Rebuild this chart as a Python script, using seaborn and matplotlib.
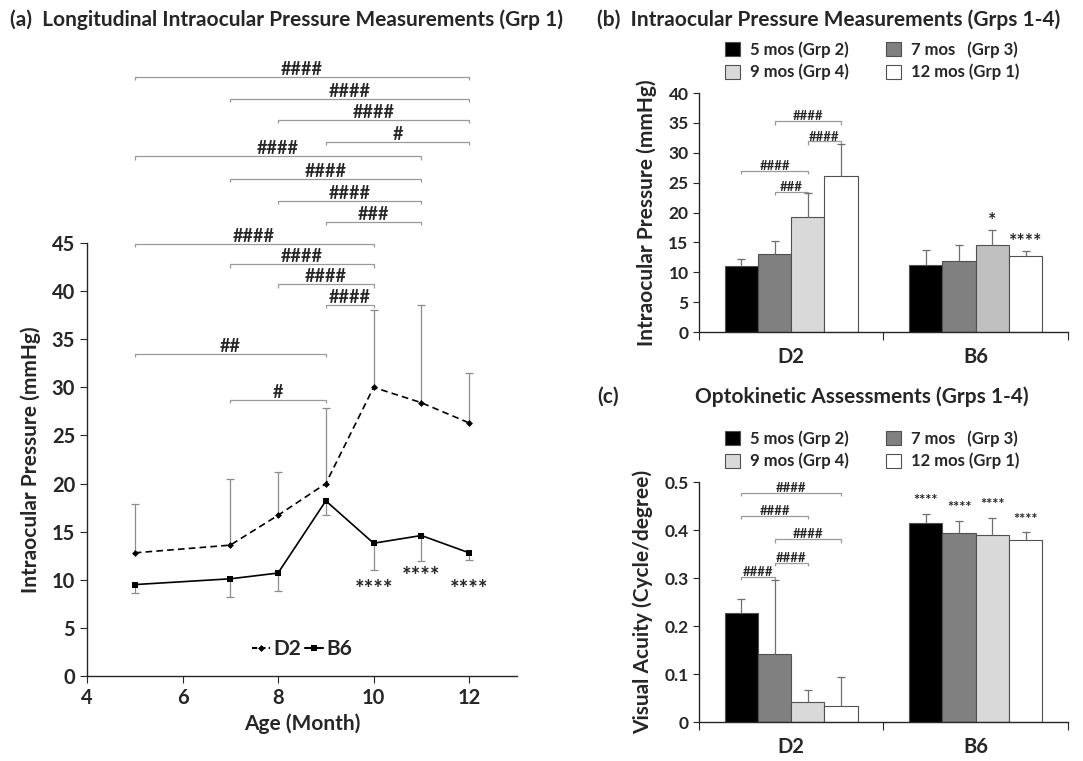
import numpy as np
import pandas as pd
import matplotlib
matplotlib.use("Agg")
import matplotlib.pyplot as plt
import seaborn as sns
from matplotlib.patches import Patch
from matplotlib.lines import Line2D

# ---------------- data ----------------
months = [5, 7, 8, 9, 10, 11, 12]
d2_iop = [12.8, 13.6, 16.7, 20.0, 30.0, 28.4, 26.3]
d2_sd = [5.1, 6.9, 4.5, 7.8, 8.0, 10.2, 5.2]
b6_iop = [9.5, 10.1, 10.7, 18.2, 13.8, 14.6, 12.8]
b6_sd = [0.9, 1.9, 1.85, 1.5, 2.8, 2.6, 0.75]

strains = ["D2", "B6"]
groups = ["5 mos (Grp 2)", "7 mos   (Grp 3)", "9 mos (Grp 4)", "12 mos (Grp 1)"]
group_colors = ["#000000", "#808080", "#d9d9d9", "#ffffff"]

iop_d2 = [11.0, 13.1, 19.2, 26.2]
iop_d2_sd = [1.2, 2.1, 4.0, 5.3]
iop_b6 = [11.3, 11.9, 14.6, 12.7]
iop_b6_sd = [2.5, 2.7, 2.5, 0.8]

va_d2 = [0.228, 0.142, 0.041, 0.034]
va_d2_sd = [0.028, 0.154, 0.025, 0.060]
va_b6 = [0.415, 0.394, 0.389, 0.380]
va_b6_sd = [0.019, 0.025, 0.037, 0.015]

# significance brackets: (from, to, height, label)
a_brackets = [(5, 12, 62.3, "####"), (7, 12, 60.0, "####"), (8, 12, 57.8, "####"),
              (9, 12, 55.5, "#"), (5, 11, 54.0, "####"), (7, 11, 51.7, "####"),
              (8, 11, 49.4, "####"), (9, 11, 47.2, "###"), (5, 10, 44.9, "####"),
              (7, 10, 42.8, "####"), (8, 10, 40.7, "####"), (9, 10, 38.6, "####"),
              (5, 9, 33.5, "##"), (7, 9, 28.7, "#")]
a_stars = [(10, 9.0, "****"), (11, 10.3, "****"), (12, 9.0, "****")]

b_brackets = [(1, 3, 35.3, "####"), (2, 3, 31.9, "####"), (0, 2, 27.0, "####"), (1, 2, 23.5, "###")]
b_stars = [(2, "*"), (3, "****")]
c_brackets = [(0, 3, 0.478, "####"), (0, 2, 0.429, "####"), (1, 3, 0.381, "####"),
              (1, 2, 0.332, "####"), (0, 1, 0.303, "####")]
c_stars = [(0, "****"), (1, "****"), (2, "****"), (3, "****")]

# ---------------- style ----------------
sns.set_style("ticks")
plt.rcParams["font.family"] = ["Lato", "DejaVu Sans"]
plt.rcParams["font.weight"] = "bold"
plt.rcParams["axes.labelweight"] = "bold"
plt.rcParams["axes.linewidth"] = 1.0

fig = plt.figure(figsize=(10.83, 7.61), dpi=100)
ax_a = fig.add_axes([0.0803, 0.1117, 0.397, 0.569])
ax_b = fig.add_axes([0.6454, 0.5637, 0.3407, 0.314])
ax_c = fig.add_axes([0.6454, 0.0512, 0.3407, 0.3154])

ERR_A = "#8c8c8c"
ERR_B = "#6e6e6e"
BR_COL = "#9a9a9a"
EDGE = "#505050"

# ---------------- panel (a) ----------------
df_a = pd.DataFrame({"Age": months * 2,
                     "IOP": d2_iop + b6_iop,
                     "Strain": ["D2"] * len(months) + ["B6"] * len(months)})
sns.lineplot(data=df_a, x="Age", y="IOP", hue="Strain", style="Strain",
             palette={"D2": "black", "B6": "black"},
             dashes={"D2": (4, 2.5), "B6": ""},
             markers={"D2": "D", "B6": "s"}, markersize=4.5, markeredgewidth=0,
             linewidth=1.2, legend=False, ax=ax_a, zorder=3)
ax_a.lines[0].set_markersize(3.5)

m = np.array(months, float)
d2 = np.array(d2_iop); d2s = np.array(d2_sd)
b6 = np.array(b6_iop); b6s = np.array(b6_sd)
ax_a.errorbar(m, d2, yerr=[np.zeros_like(d2s), d2s], fmt="none", ecolor=ERR_A, elinewidth=0.9, capsize=0, zorder=2)
ax_a.plot(m, d2 + d2s, ls="none", marker="_", ms=6, mew=0.9, color=ERR_A)
ax_a.errorbar(m, b6, yerr=[b6s, np.zeros_like(b6s)], fmt="none", ecolor=ERR_A, elinewidth=0.9, capsize=0, zorder=2)
ax_a.plot(m, b6 - b6s, ls="none", marker="_", ms=6, mew=0.9, color=ERR_A)

ax_a.set_xlim(4, 13)
ax_a.set_ylim(0, 45)
ax_a.set_xticks([4, 6, 8, 10, 12])
ax_a.set_yticks(range(0, 50, 5))
ax_a.tick_params(labelsize=14.5, direction="out", length=5)
ax_a.set_xlabel("Age (Month)", fontsize=15)
ax_a.set_ylabel("Intraocular Pressure (mmHg)", fontsize=15, labelpad=8)
sns.despine(ax=ax_a)


def bracket(ax, x0, x1, y, label, tick, fs, col=BR_COL, lw=0.9):
    ax.plot([x0, x0, x1, x1], [y - tick, y, y, y - tick], color=col, lw=lw, clip_on=False,
            solid_capstyle="butt")
    ax.text((x0 + x1) / 2, y - tick * 0.3, label, ha="center", va="bottom", fontsize=fs,
            fontweight="bold", clip_on=False)


for x0, x1, y, lab in a_brackets:
    bracket(ax_a, x0, x1, y, lab, 0.35, 13)
for x, y, lab in a_stars:
    ax_a.text(x, y, lab, ha="center", va="center", fontsize=16, fontweight="bold")

leg_a = [Line2D([], [], color="black", ls=(0, (2.5, 1.5)), marker="D", ms=3.5, mew=0),
         Line2D([], [], color="black", ls="-", marker="s", ms=4.5, mew=0)]
ax_a.legend(leg_a, ["D2", "B6"], loc="center", bbox_to_anchor=(0.5, 0.062), ncol=2,
            frameon=False, handlelength=0.9, handletextpad=0.15, columnspacing=0.15,
            prop={"size": 15, "weight": "bold"})

fig.text(10 / 1083, 1 - 20 / 761, "(a)  Longitudinal Intraocular Pressure Measurements (Grp 1)",
         fontsize=15, fontweight="bold", va="center", ha="left")


# ---------------- panels (b), (c) ----------------
def bar_panel(ax, d2_vals, b6_vals, d2_err, b6_err, ylim, yticks, ylabel, brackets, stars,
              br_tick, star_fs, star_off, recolor=None):
    df = pd.DataFrame({"Strain": ["D2"] * 4 + ["B6"] * 4,
                       "Group": groups * 2,
                       "Value": list(d2_vals) + list(b6_vals)})
    sns.barplot(data=df, x="Strain", y="Value", hue="Group", order=strains, hue_order=groups,
                palette=dict(zip(groups, group_colors)), width=0.72, errorbar=None,
                edgecolor=EDGE, linewidth=0.8, legend=False, ax=ax, zorder=2)
    centers = np.zeros((4, 2))
    for gi, cont in enumerate(ax.containers):
        for si, bar in enumerate(cont):
            centers[gi, si] = bar.get_x() + bar.get_width() / 2
    if recolor is not None:
        gi, si, col = recolor
        ax.containers[gi][si].set_facecolor(col)
    errs = [d2_err, b6_err]
    vals = [d2_vals, b6_vals]
    for si in range(2):
        x = centers[:, si]
        v = np.array(vals[si]); e = np.array(errs[si])
        ax.errorbar(x, v, yerr=[np.zeros_like(e), e], fmt="none", ecolor=ERR_B, elinewidth=0.9,
                    capsize=0, zorder=3)
        ax.plot(x, v + e, ls="none", marker="_", ms=6, mew=0.9, color=ERR_B, zorder=3)
    for i, j, y, lab in brackets:
        bracket(ax, centers[i, 0], centers[j, 0], y, lab, br_tick, 9.5)
    for gi, lab in stars:
        top = vals[1][gi] + errs[1][gi]
        ax.text(centers[gi, 1], top + star_off, lab, ha="center", va="bottom",
                fontsize=star_fs, fontweight="bold")
    ax.set_xlim(-0.5, 1.5)
    ax.set_ylim(*ylim)
    ax.set_yticks(yticks)
    ax.set_xticks([-0.5, 0.5, 1.5])
    ax.set_xticklabels([])
    ax.set_xticks([0, 1], minor=True)
    ax.set_xticklabels(strains, minor=True)
    ax.tick_params(axis="x", which="major", length=6, direction="out")
    ax.tick_params(axis="x", which="minor", length=0, labelsize=14.5, pad=11)
    ax.tick_params(axis="y", labelsize=12.5, direction="out", length=4)
    ax.set_xlabel("")
    ax.set_ylabel(ylabel, fontsize=15, labelpad=8)
    sns.despine(ax=ax)
    handles = [Patch(facecolor=c, edgecolor=EDGE, lw=0.8) for c in group_colors]
    order = [0, 2, 1, 3]
    ax.legend([handles[k] for k in order], [groups[k] for k in order], ncol=2,
              loc="lower center", bbox_to_anchor=(0.47, 0.99), frameon=False,
              handlelength=0.9, handleheight=0.9, handletextpad=0.6, columnspacing=2.2,
              labelspacing=0.35, prop={"size": 12, "weight": "bold"})


bar_panel(ax_b, iop_d2, iop_b6, iop_d2_sd, iop_b6_sd, (0, 40), range(0, 45, 5),
          "Intraocular Pressure (mmHg)", b_brackets, b_stars, 0.6, 14, 0.2,
          recolor=(2, 1, "#c0c0c0"))
bar_panel(ax_c, va_d2, va_b6, va_d2_sd, va_b6_sd, (0, 0.5), [0, 0.1, 0.2, 0.3, 0.4, 0.5],
          "Visual Acuity (Cycle/degree)", c_brackets, c_stars, 0.007, 10.5, 0.012)
ax_c.set_yticklabels(["0", "0.1", "0.2", "0.3", "0.4", "0.5"])

fig.text(597 / 1083, 1 - 20 / 761, "(b)  Intraocular Pressure Measurements (Grps 1-4)",
         fontsize=15, fontweight="bold", va="center", ha="left")
fig.text(597 / 1083, 1 - 397 / 761, "(c)", fontsize=15, fontweight="bold", va="center", ha="left")
fig.text(862 / 1083, 1 - 397 / 761, "Optokinetic Assessments (Grps 1-4)",
         fontsize=15, fontweight="bold", va="center", ha="center")

fig.savefig("out.png", dpi=100)
